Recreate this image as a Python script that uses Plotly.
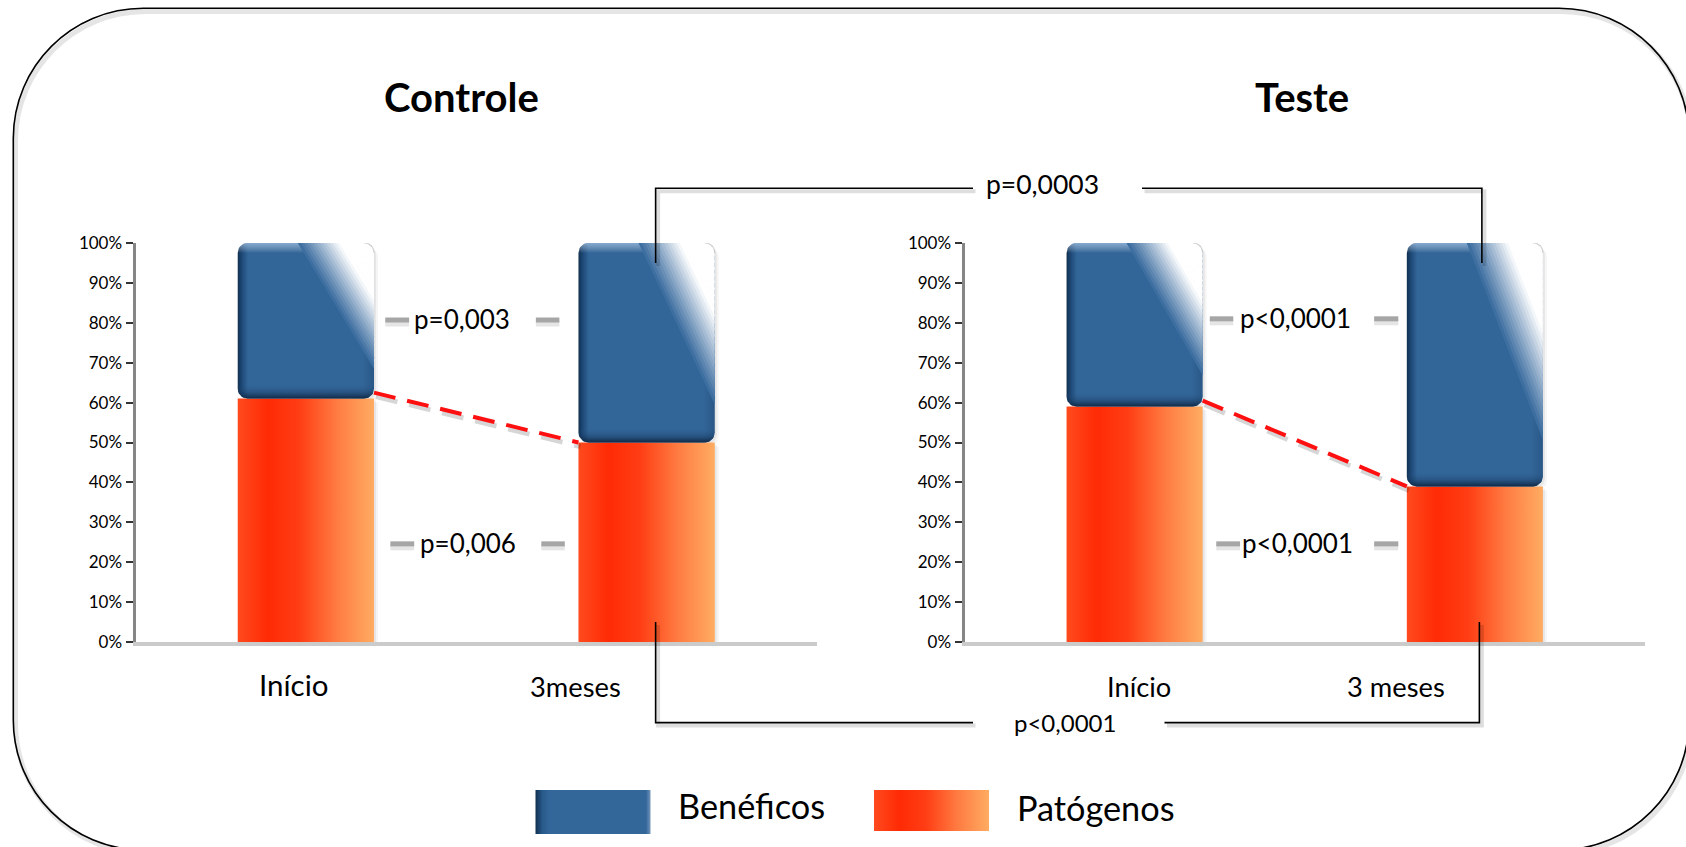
import math
import plotly.graph_objects as go

# ---------------- data ----------------
grupos = ["Controle", "Teste"]
categorias_controle = ["Início", "3meses"]
categorias_teste = ["Início", "3 meses"]
patogenos_controle = [61, 50]
beneficos_controle = [39, 50]
patogenos_teste = [59, 39]
beneficos_teste = [41, 61]
ticks_y = [0, 10, 20, 30, 40, 50, 60, 70, 80, 90, 100]
rotulos_y = [f"{v}%" for v in ticks_y]
series = ["Benéficos", "Patógenos"]
p_beneficos = ["p=0,003", "p<0,0001"]      # Início vs 3 meses, per group
p_patogenos = ["p=0,006", "p<0,0001"]
p_entre_beneficos = "p=0,0003"             # Controle vs Teste at 3 meses
p_entre_patogenos = "p<0,0001"

# ---------------- geometry ----------------
W, H = 1686, 847
FONT = "Lato"
X_RANGE = (-0.5, 1.5)
Y_RANGE = (0, 100)
X_DOM = {"x": (135.5 / W, 817 / W), "x2": (964.5 / W, 1645 / W)}
Y_DOM = (1 - 642 / H, 1 - 243 / H)
BAR_W = 0.4
RAD = 10  # corner radius of the blue blocks, px

ORANGE_SCALE = [[0, "#ff4a1e"], [0.22, "#ff2b05"], [0.45, "#ff3d14"],
                [0.72, "#ff7a40"], [1, "#ffac62"]]
BLUE_SCALE = [[0, "#10304f"], [0.03, "#1d4876"], [0.075, "#326598"],
              [0.92, "#326598"], [1, "#2a5887"]]


def x_px(ax, v):
    d0, d1 = X_DOM[ax]
    return W * (d0 + (v - X_RANGE[0]) / (X_RANGE[1] - X_RANGE[0]) * (d1 - d0))


def y_px(v):
    return H * (1 - (Y_DOM[0] + (v - Y_RANGE[0]) / (Y_RANGE[1] - Y_RANGE[0]) * (Y_DOM[1] - Y_DOM[0])))


def x_data(ax, px):
    d0, d1 = X_DOM[ax]
    return X_RANGE[0] + (px / W - d0) / (d1 - d0) * (X_RANGE[1] - X_RANGE[0])


def y_data(py):
    return Y_RANGE[0] + ((1 - py / H) - Y_DOM[0]) / (Y_DOM[1] - Y_DOM[0]) * (Y_RANGE[1] - Y_RANGE[0])


def paper(px, py):
    return px / W, 1 - py / H


def arc_pts(cx, cy, rr, a0, a1, n=10):
    return [(cx + rr * math.cos(a0 + (a1 - a0) * k / n),
             cy + rr * math.sin(a0 + (a1 - a0) * k / n)) for k in range(n + 1)]


def rounded(l, t, r, b, rad=(0, 0, 0, 0), n=10):
    tl, tr, br, bl = rad
    pts = []
    pts += arc_pts(l + tl, t + tl, tl, math.pi, 1.5 * math.pi, n)
    pts += arc_pts(r - tr, t + tr, tr, 1.5 * math.pi, 2 * math.pi, n)
    pts += arc_pts(r - br, b - br, br, 0, 0.5 * math.pi, n)
    pts += arc_pts(l + bl, b - bl, bl, 0.5 * math.pi, math.pi, n)
    pts.append(pts[0])
    return pts


def poly(pts, ax, color=None, grad=None):
    ay = "y" + ax[1:]
    if ax == "x3":
        xs = [p[0] for p in pts]
        ys = [p[1] for p in pts]
    else:
        xs = [x_data(ax, p[0]) for p in pts]
        ys = [y_data(p[1]) for p in pts]
    kw = dict(x=xs, y=ys, xaxis=ax, yaxis=ay, mode="lines", fill="toself",
              line=dict(width=0, color="rgba(0,0,0,0)"), hoverinfo="skip",
              showlegend=False)
    if grad is not None:
        kw["fillgradient"] = grad
        kw["fillcolor"] = grad["colorscale"][-1][1]
    else:
        kw["fillcolor"] = color
    return go.Scatter(**kw)


def mix(c, s):
    return "rgb({},{},{})".format(*[round(v + (255 - v) * s) for v in c])


def bar_traces(ax, i, pat, ben):
    l, r = x_px(ax, i - BAR_W / 2), x_px(ax, i + BAR_W / 2)
    y0, yp, yt = y_px(0), y_px(pat), y_px(pat + ben)
    out = []
    # soft drop shadows
    for off, a in ((4, 0.04), (2, 0.06)):
        out.append(poly(rounded(l + off, yt + off, r + off, yp + off, (RAD,) * 4), ax,
                        f"rgba(0,0,0,{a})"))
        out.append(poly(rounded(l + off, yp + off, r + off, y0), ax, f"rgba(0,0,0,{a})"))
    # Patógenos block
    out.append(poly(rounded(l, yp, r, y0), ax,
                    grad=dict(type="horizontal", colorscale=ORANGE_SCALE)))
    # Benéficos block
    out.append(poly(rounded(l, yt, r, yp, (RAD,) * 4), ax,
                    grad=dict(type="horizontal", colorscale=BLUE_SCALE)))
    # darker lower rim
    out.append(poly(rounded(l, yp - 14, r, yp, (0, 0, RAD, RAD)), ax,
                    grad=dict(type="vertical",
                              colorscale=[[0, "rgba(10,30,55,0.85)"], [0.45, "rgba(20,50,85,0.35)"],
                                          [1, "rgba(40,90,140,0)"]])))
    # light upper rim
    out.append(poly(rounded(l, yt, r, yt + RAD, (RAD, RAD, 0, 0)), ax,
                    grad=dict(type="vertical",
                              colorscale=[[0, "rgba(255,255,255,0)"], [1, "rgba(200,225,255,0.55)"]])))
    # glossy diagonal highlight at the top-right corner
    wd, hd = r - l, yp - yt
    A = (l + 0.44 * wd, yt)
    B = (r, yt)
    C = (r, yt + 0.81 * hd)
    n = 24
    base = (56, 106, 158)
    for k in range(n):
        t0, t1 = k / n, min(1.0, (k + 1) / n + 0.01)
        tm = (k + 0.5) / n
        s = min(1.0, tm / 0.55) ** 1.05
        p0 = (A[0] + t0 * (B[0] - A[0]), A[1])
        p1 = (A[0] + t1 * (B[0] - A[0]), A[1])
        q1 = (C[0], C[1] + t1 * (B[1] - C[1]))
        q0 = (C[0], C[1] + t0 * (B[1] - C[1]))
        out.append(poly([p0, p1, q1, q0, p0], ax, mix(base, s)))
    # keep the rounded top-right corner: faint rim, then white outside the arc
    corner = [(r - RAD, yt - 1)] + arc_pts(r - RAD, yt + RAD, RAD, 1.5 * math.pi, 2 * math.pi) \
        + [(r + 1, yt + RAD), (r + 1, yt - 1), (r - RAD, yt - 1)]
    out.append(poly(corner, ax, "white"))
    rim = arc_pts(r - RAD, yt + RAD, RAD + 0.8, 1.5 * math.pi, 2 * math.pi)
    inner = arc_pts(r - RAD, yt + RAD, RAD - 0.4, 2 * math.pi, 1.5 * math.pi)
    out.append(poly(rim + inner + [rim[0]], ax, "rgba(150,150,150,0.45)"))
    return out


traces = []
panels = [("x", patogenos_controle, beneficos_controle),
          ("x2", patogenos_teste, beneficos_teste)]
for ax, pats, bens in panels:
    for i, (pt, bn) in enumerate(zip(pats, bens)):
        traces += bar_traces(ax, i, pt, bn)
    # red dashed link between the Patógenos tops
    xs = [0 + BAR_W / 2, 1 - BAR_W / 2]
    ys = [pats[0] + 1.5, pats[1]]
    sx = [x_data(ax, x_px(ax, v) + 2) for v in xs]
    sy = [y_data(y_px(v) + 4) for v in ys]
    ay = "y" + ax[1:]
    traces.append(go.Scatter(x=sx, y=sy, xaxis=ax, yaxis=ay, mode="lines",
                             line=dict(color="rgba(0,0,0,0.16)", width=5, dash="22px,12px"),
                             hoverinfo="skip", showlegend=False))
    traces.append(go.Scatter(x=xs, y=ys, xaxis=ax, yaxis=ay, mode="lines",
                             line=dict(color="#ff1010", width=4, dash="22px,12px"),
                             hoverinfo="skip", showlegend=False))

# legend keys
traces.append(poly(rounded(535.5, 790, 650.5, 834), "x3",
                   grad=dict(type="horizontal",
                             colorscale=[[0, "#10304f"], [0.06, "#285a8b"], [0.12, "#336699"],
                                         [0.96, "#336699"], [1, "#7396bb"]])))
traces.append(poly(rounded(874, 790, 989, 831), "x3",
                   grad=dict(type="horizontal", colorscale=ORANGE_SCALE)))

fig = go.Figure(data=traces)

# ---------------- shapes ----------------
shapes = []


def P(px, py):
    x, y = paper(px, py)
    return f"{x:.6f},{y:.6f}"


def frame_path(l, t, r, b, rad):
    k = 0.5523 * rad
    return (f"M {P(l + rad, t)} L {P(r - rad, t)} "
            f"C {P(r - rad + k, t)} {P(r, t + rad - k)} {P(r, t + rad)} "
            f"L {P(r, b - rad)} C {P(r, b - rad + k)} {P(r - rad + k, b)} {P(r - rad, b)} "
            f"L {P(l + rad, b)} C {P(l + rad - k, b)} {P(l, b - rad + k)} {P(l, b - rad)} "
            f"L {P(l, t + rad)} C {P(l, t + rad - k)} {P(l + rad - k, t)} {P(l + rad, t)} Z")


shapes.append(dict(type="path", xref="paper", yref="paper", path=frame_path(15.5, 11.5, 1691, 853, 130),
                   line=dict(color="rgba(0,0,0,0.10)", width=5), layer="below"))
shapes.append(dict(type="path", xref="paper", yref="paper", path=frame_path(13.3, 8.3, 1689, 850, 130),
                   line=dict(color="black", width=1.6), layer="below"))


def poly_path(pts):
    return "M " + " L ".join(P(*p) for p in pts)


def bracket(pts_list, shadow=True):
    for pts in pts_list:
        if shadow:
            sp = [(x + 2.5, y + 3) for x, y in pts]
            shapes.append(dict(type="path", xref="paper", yref="paper", path=poly_path(sp),
                               line=dict(color="rgba(0,0,0,0.13)", width=4)))
        shapes.append(dict(type="path", xref="paper", yref="paper", path=poly_path(pts),
                           line=dict(color="black", width=1.6)))


# between-group comparisons at 3 meses
xl = x_px("x", 1) + 9
xr = x_px("x2", 1) + 7
top_y, bot_y = 188.2, 722.6
bracket([[(xl, y_px(95)), (xl, top_y), (973, top_y)],
         [(1142, top_y), (xr, top_y), (xr, y_px(95))]])
bracket([[(xl, y_px(5)), (xl, bot_y), (973, bot_y)],
         [(1164.5, bot_y), (xr - 2.5, bot_y), (xr - 2.5, y_px(5))]])

# within-group comparisons: grey connector stubs
P_WITHIN = [
    ("x", 80.7, p_beneficos[0], 0.458, (0.23, 0.30), (0.672, 0.741)),
    ("x", 24.6, p_patogenos[0], 0.476, (0.245, 0.315), (0.688, 0.757)),
    ("x2", 81.0, p_beneficos[1], 0.472, (0.218, 0.287), (0.701, 0.772)),
    ("x2", 24.6, p_patogenos[1], 0.48, (0.237, 0.307), (0.701, 0.772)),
]
annotations = []


def ann(text, px, py, size, bold=False, xanchor="center"):
    x, y = paper(px, py)
    return dict(text=f"<b>{text}</b>" if bold else text, x=x, y=y, xref="paper", yref="paper",
                xanchor=xanchor, yanchor="middle", showarrow=False,
                font=dict(family=FONT, size=size, color="black"))


for ax, yv, txt, tx, d1, d2 in P_WITHIN:
    py = y_px(yv)
    for a, b in (d1, d2):
        x0, x1 = x_px(ax, a), x_px(ax, b)
        for dy, col, wd in ((3.5, "rgba(0,0,0,0.10)", 6), (0, "#a6a6a6", 5)):
            (px0, py0), (px1, py1) = paper(x0 + 1, py + dy), paper(x1 + 1, py + dy)
            shapes.append(dict(type="line", xref="paper", yref="paper", x0=px0, y0=py0,
                               x1=px1, y1=py1, line=dict(color=col, width=wd)))
    annotations.append(ann(txt, x_px(ax, tx), py - 1, 26))

annotations.append(ann(p_entre_beneficos, 1042, 184.4, 26.5))
annotations.append(ann(p_entre_patogenos, 1064.5, 722.6, 24))

# titles
annotations.append(ann(grupos[0], 461, 97, 40, bold=True))
annotations.append(ann(grupos[1], 1302, 97, 40, bold=True))

# category labels
annotations.append(ann(categorias_controle[0], 293.6, 684, 29.5))
annotations.append(ann(categorias_controle[1], 575, 686.5, 27.3))
annotations.append(ann(categorias_teste[0], 1139, 686.5, 27.3))
annotations.append(ann(categorias_teste[1], 1396, 686.5, 27.3))

# legend labels
annotations.append(ann(series[0], 676, 805.5, 34.3, xanchor="left"))
annotations.append(ann(series[1], 1015, 807.5, 34.3, xanchor="left"))

xaxis_common = dict(range=X_RANGE, showline=True, linecolor="#cbcbcb", linewidth=4,
                     showticklabels=False, ticks="", showgrid=False, zeroline=False,
                     automargin=False)
yaxis_common = dict(domain=Y_DOM, range=Y_RANGE, showline=True, linecolor="#868686", linewidth=3,
                     ticks="outside", ticklen=7, tickwidth=2, tickcolor="#333333",
                     tickvals=ticks_y, ticktext=rotulos_y,
                     tickfont=dict(family=FONT, size=17, color="black"),
                     showgrid=False, zeroline=False, automargin=False)

fig.update_layout(
    template="none",
    width=W, height=H, autosize=False,
    margin=dict(l=0, r=0, t=0, b=0, pad=0, autoexpand=False),
    paper_bgcolor="white", plot_bgcolor="rgba(0,0,0,0)", showlegend=False,
    xaxis=dict(domain=X_DOM["x"], anchor="y", **xaxis_common),
    yaxis=dict(anchor="x", **yaxis_common),
    xaxis2=dict(domain=X_DOM["x2"], anchor="y2", **xaxis_common),
    yaxis2=dict(anchor="x2", **yaxis_common),
    xaxis3=dict(domain=[0, 1], range=[0, W], visible=False, anchor="y3", automargin=False),
    yaxis3=dict(domain=[0, 1], range=[H, 0], visible=False, anchor="x3", automargin=False),
    shapes=shapes, annotations=annotations,
)

fig.write_html("out.html")
